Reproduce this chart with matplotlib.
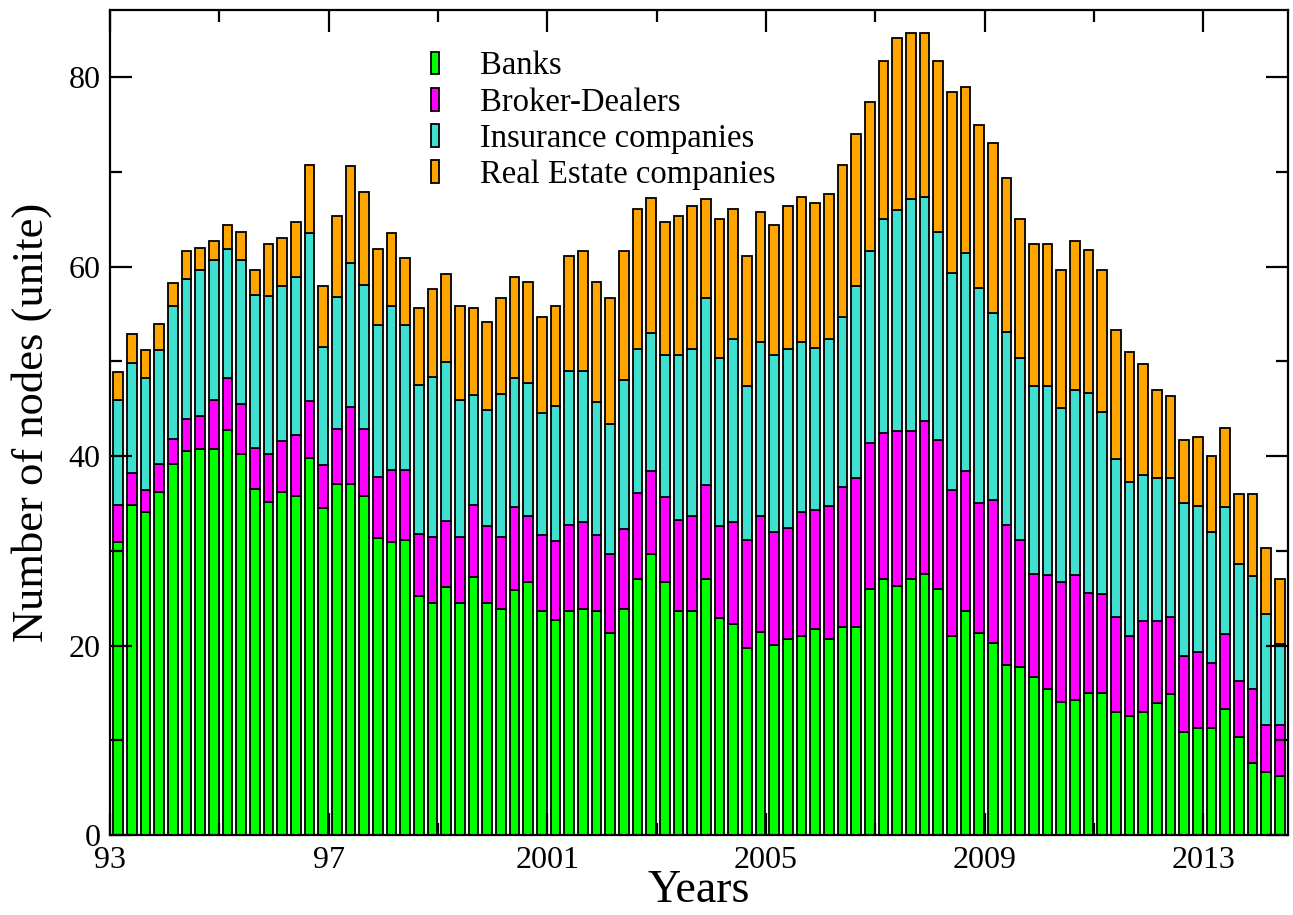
import numpy as np
import matplotlib
matplotlib.use("Agg")
import matplotlib.pyplot as plt
from matplotlib.patches import Patch
from matplotlib.ticker import FixedLocator

# quarterly data, 1993Q1 .. 2014Q2
first_year = 1993
banks = [30.9, 34.8, 34.1, 36.2, 39.2, 40.5, 40.8, 40.8, 42.8, 40.2,
         36.5, 35.2, 36.2, 35.8, 39.8, 34.5, 37.1, 37.1, 35.8, 31.4,
         30.9, 31.1, 25.2, 24.5, 26.2, 24.5, 27.2, 24.5, 23.9, 25.9,
         26.7, 23.6, 22.7, 23.6, 23.9, 23.6, 21.3, 23.9, 27.0, 29.7,
         26.7, 23.6, 23.6, 27.0, 22.9, 22.3, 19.7, 21.4, 20.1, 20.7,
         21.0, 21.7, 20.7, 22.0, 22.0, 26.0, 27.0, 26.3, 27.0, 27.6,
         26.0, 21.0, 23.7, 21.3, 20.3, 18.0, 17.7, 16.7, 15.4, 14.0,
         14.3, 15.0, 15.0, 13.0, 12.6, 13.0, 13.9, 14.9, 10.9, 11.3,
         11.3, 13.3, 10.3, 7.6, 6.6, 6.2]
broker_dealers = [3.9, 3.4, 2.3, 3.0, 2.6, 3.4, 3.4, 5.1, 5.4, 5.3,
                  4.4, 5.0, 5.4, 6.4, 6.0, 4.6, 5.8, 8.1, 7.1, 6.4,
                  7.6, 7.4, 6.6, 7.0, 7.0, 7.0, 7.6, 8.1, 7.6, 8.7,
                  7.0, 8.1, 8.3, 9.1, 9.1, 8.1, 8.4, 8.4, 9.1, 8.7,
                  9.0, 9.7, 10.1, 10.0, 9.7, 10.7, 11.4, 12.3, 11.9, 11.7,
                  13.1, 12.6, 14.0, 14.7, 15.7, 15.4, 15.4, 16.4, 15.7, 16.1,
                  15.7, 15.4, 14.7, 13.7, 15.1, 14.7, 13.4, 10.9, 12.0, 12.7,
                  13.1, 10.6, 10.4, 10.0, 8.4, 9.6, 8.7, 8.1, 8.0, 8.0,
                  6.9, 7.9, 6.0, 7.8, 5.0, 5.4]
insurance = [11.1, 11.6, 11.8, 12.0, 14.0, 14.8, 15.5, 14.8, 13.7, 15.2,
             16.1, 16.7, 16.4, 16.7, 17.8, 12.4, 13.9, 15.2, 15.2, 16.0,
             17.4, 15.3, 15.7, 16.9, 16.7, 14.4, 11.7, 12.3, 15.1, 13.7,
             14.0, 12.9, 14.3, 16.3, 16.0, 14.0, 13.7, 15.7, 15.2, 14.6,
             15.0, 17.4, 17.6, 19.7, 17.8, 19.4, 16.3, 18.4, 18.7, 18.9,
             18.0, 17.1, 17.7, 18.0, 20.3, 20.3, 22.6, 23.3, 24.4, 23.7,
             22.0, 22.9, 23.0, 22.7, 19.7, 20.4, 19.3, 19.8, 20.0, 18.4,
             19.6, 21.1, 19.3, 16.7, 16.3, 15.4, 15.1, 14.7, 16.1, 15.4,
             13.8, 13.4, 12.3, 11.9, 11.7, 8.6]
real_estate = [3.0, 3.1, 3.0, 2.7, 2.5, 3.0, 2.3, 2.0, 2.5, 3.0,
               2.7, 5.5, 5.0, 5.8, 7.1, 6.5, 8.5, 10.2, 9.8, 8.1,
               7.7, 7.1, 8.1, 9.2, 9.3, 10.0, 9.1, 9.3, 10.1, 10.6,
               10.7, 10.1, 10.5, 12.1, 12.7, 12.7, 13.3, 13.7, 14.8, 14.2,
               14.0, 14.7, 15.1, 10.4, 14.6, 13.7, 13.7, 13.7, 13.7, 15.1,
               15.3, 15.3, 15.3, 16.0, 16.0, 15.7, 16.7, 18.1, 17.6, 17.3,
               18.0, 19.1, 17.6, 17.3, 18.0, 16.3, 14.6, 15.0, 15.0, 14.6,
               15.7, 15.1, 15.0, 13.6, 13.7, 11.7, 9.3, 8.6, 6.7, 7.3,
               8.0, 8.4, 7.4, 8.7, 7.0, 6.8]

series_names = ["Banks", "Broker-Dealers", "Insurance companies", "Real Estate companies"]
series_colors = ["#00ff00", "#ff00ff", "#40e0d0", "#ffa500"]
major_ticks = [1993, 1997, 2001, 2005, 2009, 2013]
major_labels = ["93", "97", "2001", "2005", "2009", "2013"]
minor_ticks = [1995, 1999, 2003, 2007, 2011]
y_major = [0, 20, 40, 60, 80]
y_minor = [10, 30, 50, 70]

plt.rcParams["font.family"] = ["Liberation Serif", "DejaVu Serif"]

n = len(banks)
x = first_year + 0.06 + 0.25 * np.arange(n)
data = [np.array(banks), np.array(broker_dealers), np.array(insurance), np.array(real_estate)]

fig = plt.figure(figsize=(12.93, 9.15), dpi=100)
ax = fig.add_axes([110 / 1293, 80 / 915, 1178 / 1293, 825 / 915])

bottom = np.zeros(n)
for vals, col in zip(data, series_colors):
    ax.bar(x, vals, width=0.18, bottom=bottom, align="edge", color=col,
           edgecolor="black", linewidth=1.3, zorder=1)
    bottom = bottom + vals

ax.set_xlim(1993, 2014.55)
ax.set_ylim(0, 87.1)
ax.xaxis.set_major_locator(FixedLocator(major_ticks))
ax.set_xticklabels(major_labels)
ax.xaxis.set_minor_locator(FixedLocator(minor_ticks))
ax.yaxis.set_major_locator(FixedLocator(y_major))
ax.yaxis.set_minor_locator(FixedLocator(y_minor))

ax.tick_params(which="both", direction="in", top=True, right=True, width=1.6,
               labelsize=23)
ax.tick_params(which="major", length=16)
ax.tick_params(which="minor", length=8.5)
ax.tick_params(axis="x", pad=8)
ax.tick_params(axis="y", pad=7)
for s in ax.spines.values():
    s.set_linewidth(1.6)

ax.set_xlabel("Years", fontsize=33, labelpad=-4)
ax.set_ylabel("Number of nodes (unite)", fontsize=32, labelpad=12)

handles = [Patch(facecolor=c, edgecolor="black", linewidth=1.3) for c in series_colors]
ax.legend(handles, series_names, loc="upper left", bbox_to_anchor=(0.25, 0.982),
          frameon=False, fontsize=23.5, handlelength=0.25, handleheight=0.7,
          handletextpad=1.25, labelspacing=0.17, borderpad=0.3)

fig.savefig("out.png", dpi=100)
